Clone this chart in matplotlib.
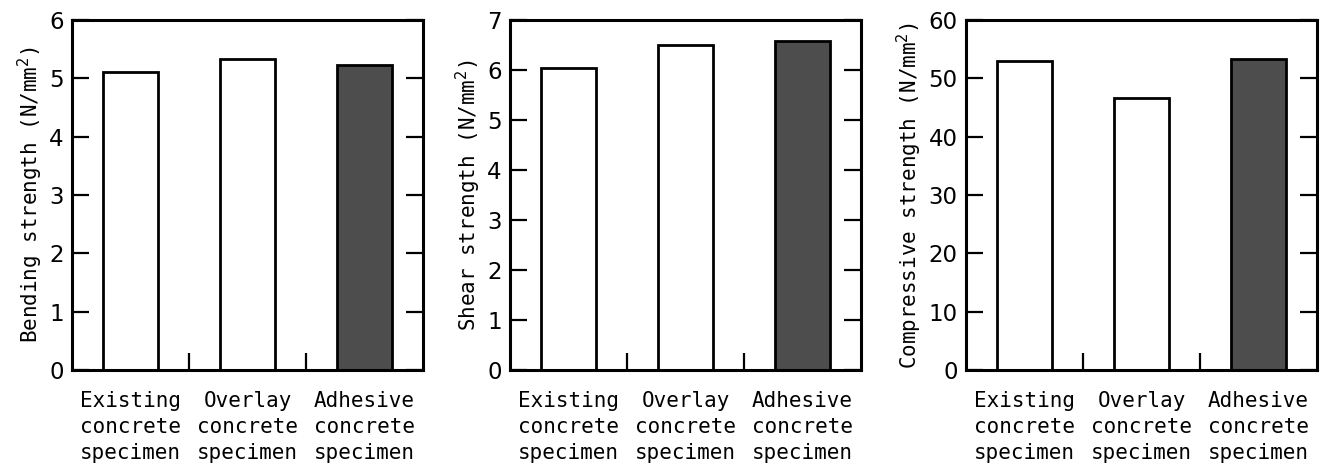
import matplotlib
matplotlib.use("Agg")
import matplotlib.pyplot as plt

# Dados
categorias = ["Existing\nconcrete\nspecimen", "Overlay\nconcrete\nspecimen", "Adhesive\nconcrete\nspecimen"]
flexao = [5.11, 5.33, 5.23]
cisalhamento = [6.05, 6.50, 6.59]
compressao = [53.0, 46.7, 53.4]
cores = ["white", "white", "#4d4d4d"]

paineis = [
    ("Bending strength (N/mm$^2$)", flexao, 6, 1),
    ("Shear strength (N/mm$^2$)", cisalhamento, 7, 1),
    ("Compressive strength (N/mm$^2$)", compressao, 60, 10),
]
esquerdas = [0.0543, 0.3846, 0.7285]

fig = plt.figure(figsize=(13.26, 4.66), dpi=100)
mono = "DejaVu Sans Mono"

for (rotulo, valores, ymax, passo), esq in zip(paineis, esquerdas):
    ax = fig.add_axes([esq, 0.206, 0.2647, 0.751])
    x = range(len(valores))
    ax.bar(x, valores, width=0.47, color=cores, edgecolor="black", linewidth=2.0, zorder=2)
    ax.set_xlim(-0.5, 2.5)
    ax.set_ylim(0, ymax)
    ax.set_yticks(range(0, ymax + 1, passo))
    ax.set_xticks([0.5, 1.5])
    ax.set_xticklabels([])
    ax.set_xticks(list(x), minor=True)
    ax.set_xticklabels(categorias, minor=True, fontfamily=mono, fontsize=15, linespacing=1.38)
    ax.tick_params(axis="x", which="minor", length=0, pad=15)
    ax.tick_params(axis="x", which="major", direction="in", length=12.5, width=1.6)
    ax.tick_params(axis="y", direction="in", length=12.5, width=1.6, right=True,
                   labelsize=16.5, pad=6)
    for s in ax.spines.values():
        s.set_linewidth(2.2)
        s.set_zorder(3)
    ax.set_ylabel(rotulo, fontfamily=mono, fontsize=15, labelpad=3)

fig.savefig("out.png", dpi=100)
